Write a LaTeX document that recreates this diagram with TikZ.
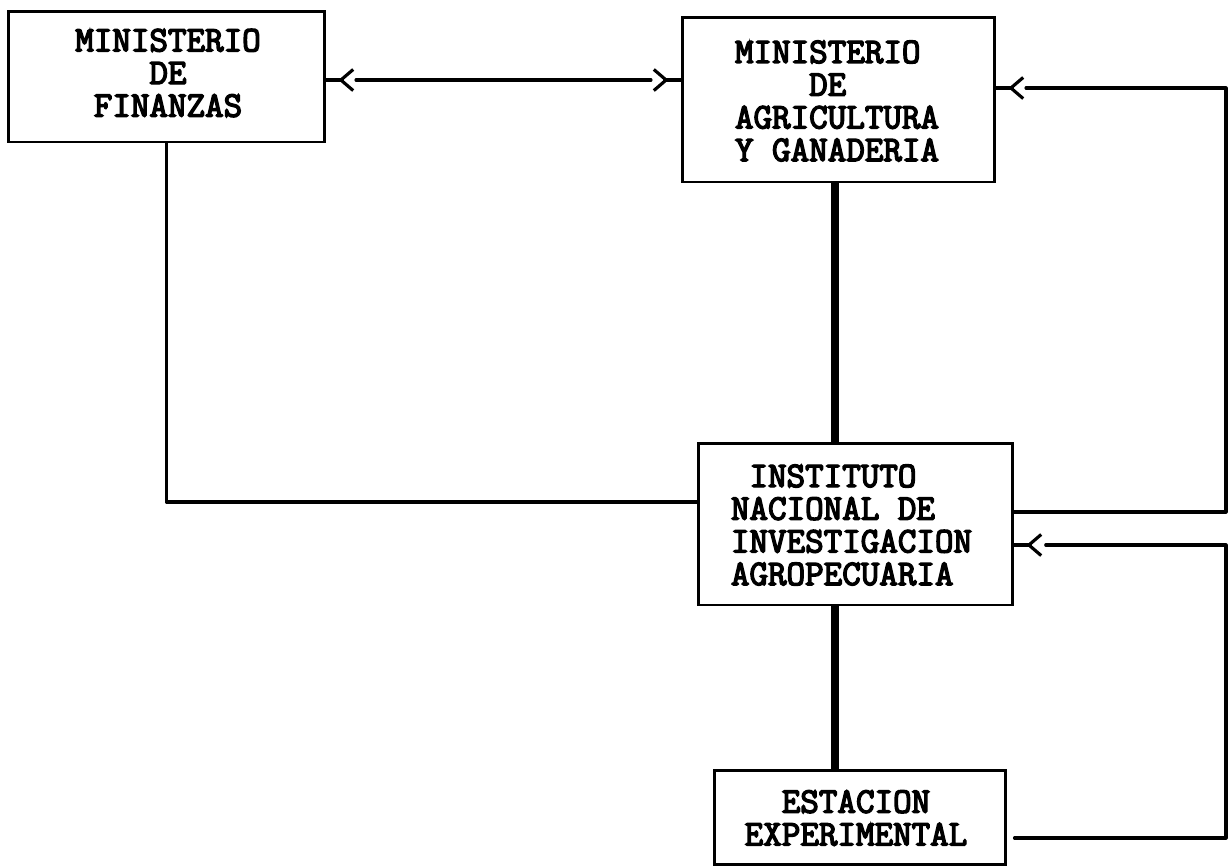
\documentclass[tikz,border=0pt]{standalone}
\usepackage{fontspec}
\newfontfamily\twfont[FakeBold=4]{Latin Modern Mono}
\usetikzlibrary{arrows.meta,calc}
\begin{document}
\begin{tikzpicture}[x=0.02cm,y=-0.02cm,
  box/.style={draw, line width=1.7pt, rectangle, inner sep=0pt},
  lbl/.style={font=\twfont\fontsize{20.5}{18.6}\selectfont, inner sep=0pt},
  wire/.style={line width=1.8pt, line join=round, line cap=round},
  heavy/.style={line width=4.2pt},
  chev/.tip={Straight Barb[length=7pt,width=12pt,line width=1.8pt]}
]
\useasboundingbox (0,0) rectangle (1230,867);
% boxes
\node[box, minimum width=6.34cm, minimum height=2.62cm] (fin) at (166.5,76.5) {};
\node[box, minimum width=6.26cm, minimum height=3.30cm] (agri) at (838.5,99.5) {};
\node[box, minimum width=6.30cm, minimum height=3.24cm] (inst) at (855.5,524) {};
\node[box, minimum width=5.84cm, minimum height=1.88cm] (est) at (860,817) {};
% texts
\node[lbl, align=center] (tfin) at (168,73) {MINISTERIO\\DE\\FINANZAS};
\node[lbl, align=left] (tagri) at (837,101) {MINISTERIO\\\phantom{XXXX}DE\\AGRICULTURA\\Y GANADERIA};
\node[lbl, align=left] (tinst) at (851.5,525) {\phantom{X}INSTITUTO\\NACIONAL DE\\INVESTIGACION\\AGROPECUARIA};
\node[lbl, align=center] (test) at (856,818) {ESTACION\\EXPERIMENTAL};
% helper coordinates
\coordinate (y1) at (0,80);
\coordinate (y2) at (0,88);
\coordinate (y3) at (0,512);
\coordinate (y4) at (0,545);
\coordinate (y5) at (0,838);
\coordinate (y6) at (0,502);
\coordinate (xr) at (1226,0);
\coordinate (xm) at (835,0);
% arrow vertices
\coordinate (v1) at ($(fin.east |- y1)+(12,0)$);
\coordinate (v2) at ($(agri.west |- y1)+(-12,0)$);
\coordinate (v3) at ($(agri.east |- y2)+(12,0)$);
\coordinate (v4) at ($(inst.east |- y4)+(12,0)$);
% Finanzas <-> Agricultura
\draw[wire] (fin.east |- y1) -- (v1);
\draw[wire] (agri.west |- y1) -- (v2);
\draw[wire, -chev] ($(v1)+(1,0)$) -- (v1);
\draw[wire, -chev] ($(v2)+(-1,0)$) -- (v2);
\draw[wire, shorten <=10pt, shorten >=10pt] (v1) -- (v2);
% Agricultura loop from Instituto
\draw[wire] (agri.east |- y2) -- (v3);
\draw[wire, -chev] ($(v3)+(1,0)$) -- (v3);
\draw[wire, shorten >=10pt] (inst.east |- y3) -- (xr |- y3) -- (xr |- y2) -- (v3);
% Estacion loop to Instituto
\draw[wire] (inst.east |- y4) -- (v4);
\draw[wire, -chev] ($(v4)+(1,0)$) -- (v4);
\draw[wire, shorten <=4pt, shorten >=11pt] (est.east |- y5) -- (xr |- y5) -- (xr |- y4) -- (v4);
% Finanzas to Instituto
\draw[wire, line cap=butt] (fin.south) |- (inst.west |- y6);
% heavy verticals
\draw[heavy] (agri.south -| xm) -- (inst.north -| xm);
\draw[heavy] (inst.south -| xm) -- (est.north -| xm);
\end{tikzpicture}
\end{document}
